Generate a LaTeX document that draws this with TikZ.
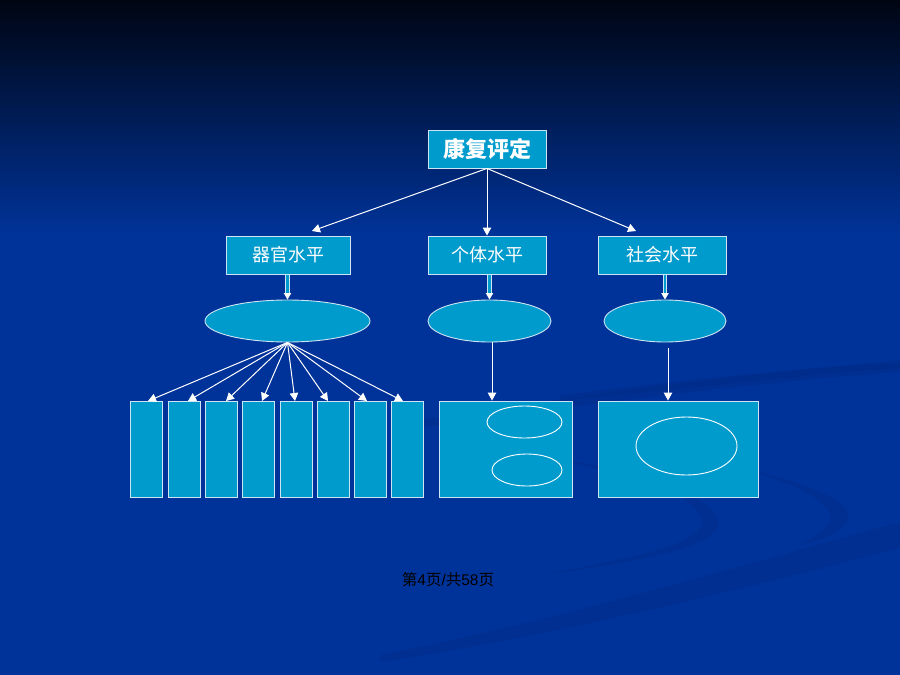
\documentclass[tikz,border=0pt]{standalone}
\usepackage{fontspec}
\setmainfont{Liberation Sans}
\newfontfamily\cjk{Noto Sans CJK SC}
\usetikzlibrary{arrows.meta,shapes.geometric}
\definecolor{bgblue}{RGB}{0,51,153}
\definecolor{bgtop}{RGB}{0,5,18}
\definecolor{boxblue}{RGB}{0,155,205}
\definecolor{swoosh}{RGB}{0,44,136}
\definecolor{edge}{RGB}{205,228,242}
\begin{document}
\begin{tikzpicture}[x=1pt,y=-1pt,
  box/.style={draw=edge, line width=0.9pt, fill=boxblue, inner sep=0pt, text=white},
  oval/.style={ellipse, draw=edge, line width=0.9pt, fill=boxblue, inner sep=0pt},
  inoval/.style={ellipse, draw=white, line width=0.9pt, inner sep=0pt},
  arr/.style={draw=white, line width=1pt, -{Triangle[width=8.5pt,length=8pt]}},
  titlefont/.style={font=\cjk\bfseries\fontsize{22}{24}\selectfont},
  levelfont/.style={font=\cjk\fontsize{18}{20}\selectfont},
  ]
\useasboundingbox (0,0) rectangle (900,675);
% background
\fill[bgblue] (0,0) rectangle (900,675);
\shade[top color=bgtop, bottom color=bgblue] (0,0) rectangle (900,235);
% faint swooshes
\begin{scope}[opacity=0.45]
\fill[swoosh] (420,420) .. controls (600,392) and (760,372) .. (900,360)
  -- (900,372) .. controls (760,382) and (600,402) .. (420,428) -- cycle;
\fill[swoosh] (560,395) .. controls (700,378) and (800,368) .. (900,363)
  -- (900,368) .. controls (800,375) and (700,388) .. (560,400) -- cycle;
\fill[swoosh] (500,448) .. controls (640,470) and (720,495) .. (718,525)
  .. controls (712,548) and (640,562) .. (540,575)
  .. controls (630,558) and (700,545) .. (702,522)
  .. controls (700,495) and (640,475) .. (500,448) -- cycle;
\fill[swoosh] (740,468) .. controls (820,485) and (855,505) .. (848,520)
  .. controls (840,535) and (820,540) .. (800,545)
  .. controls (820,535) and (832,525) .. (830,515)
  .. controls (825,500) and (800,485) .. (740,468) -- cycle;
\fill[swoosh] (380,655) .. controls (560,620) and (760,560) .. (900,522)
  -- (900,548) .. controls (760,585) and (560,635) .. (380,662) -- cycle;
\end{scope}
% top node
\node[box, titlefont, minimum width=118pt, minimum height=38pt] (root) at (487,149) {康复评定};
% level nodes
\node[box, levelfont, minimum width=124pt, minimum height=38pt] (organ) at (288,255) {器官水平};
\node[box, levelfont, minimum width=118pt, minimum height=38pt] (indiv) at (487,255) {个体水平};
\node[box, levelfont, minimum width=128pt, minimum height=38pt] (soc) at (662,255) {社会水平};
% ellipses
\node[oval, minimum width=165pt, minimum height=42pt] (e1) at (287.5,321) {};
\node[oval, minimum width=123pt, minimum height=42pt] (e2) at (489.5,321) {};
\node[oval, minimum width=122pt, minimum height=42pt] (e3) at (665,321) {};
% columns
\foreach \cx [count=\i] in {146.5,184,221,258,296,333,370,407}
  \node[box, minimum width=32pt, minimum height=96pt] (c\i) at (\cx,449) {};
% middle and right boxes
\node[box, minimum width=133pt, minimum height=96pt] (mbox) at (505.5,449) {};
\node[inoval, minimum width=75pt, minimum height=32pt] (mo1) at (524.5,422) {};
\node[inoval, minimum width=70pt, minimum height=32pt] (mo2) at (527,470) {};
\node[box, minimum width=160pt, minimum height=96pt] (rbox) at (678,449) {};
\node[inoval, minimum width=101pt, minimum height=58pt] (ro) at (686.5,446) {};
% top arrows
\coordinate (ta1) at (312,231);
\coordinate (ta3) at (636,231);
\draw[arr] (root.south) -- (ta1);
\draw[arr] (root.south) -- (indiv.north);
\draw[arr] (root.south) -- (ta3);
% hollow double arrows
\foreach \a/\b in {organ/e1, indiv/e2, soc/e3} {
  \draw[line width=4.6pt, edge] (\b.north |- \a.south) -- ([yshift=5pt]\b.north);
  \draw[line width=2.6pt, boxblue] ([yshift=-0.6pt]\b.north |- \a.south) -- ([yshift=5pt]\b.north);
  \fill[white] ([xshift=-3.8pt,yshift=6.5pt]\b.north) -- ([xshift=3.8pt,yshift=6.5pt]\b.north) -- (\b.north) -- cycle;
}
% fan arrows
\foreach \tx [count=\i] in {148,188,226,262,295,328,367,403} {
  \coordinate (t\i) at (\tx,401);
  \draw[arr] (e1.south) -- (t\i);
}
% lower arrows
\coordinate (m1) at (492,342);
\draw[arr] (m1) -- (m1 |- mbox.north);
\coordinate (r1) at (668,348);
\draw[arr] (r1) -- (r1 |- rbox.north);
% footer
\node[font=\fontsize{15.5}{18}\selectfont, text=black, inner sep=0pt] (pg) at (448,580) {{\cjk 第}4{\cjk 页}/{\cjk 共}58{\cjk 页}};
\end{tikzpicture}
\end{document}
